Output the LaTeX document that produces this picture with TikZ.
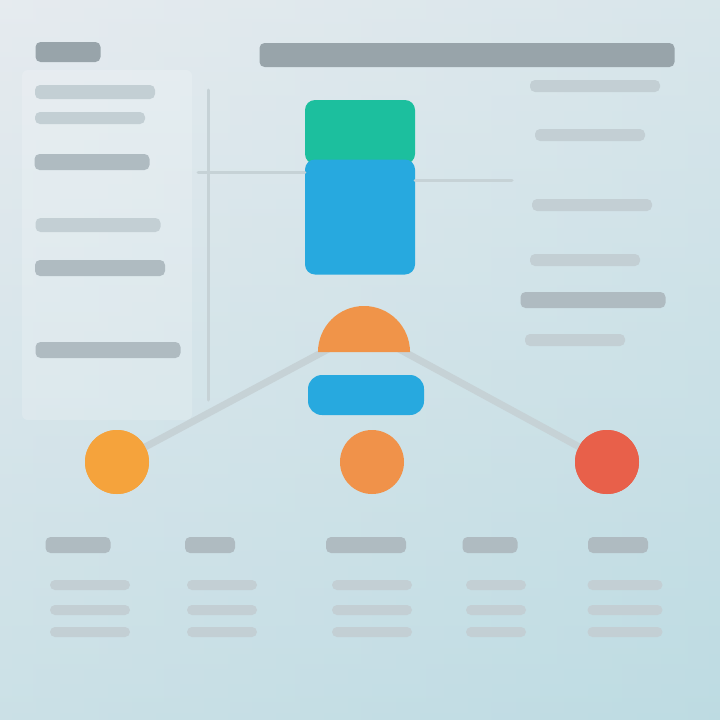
\documentclass[tikz,border=0pt]{standalone}
\usetikzlibrary{shapes.geometric}
\definecolor{bgA}{HTML}{E6EBEF}
\definecolor{bgB}{HTML}{C8E0E6}
\definecolor{bgD}{HTML}{B5D8E0}
\definecolor{barD}{HTML}{98A4AA}
\definecolor{barM}{HTML}{AFBBC1}
\definecolor{barL}{HTML}{C3CFD4}
\definecolor{tealc}{HTML}{1CBF9E}
\definecolor{bluec}{HTML}{27A9DF}
\definecolor{orA}{HTML}{F5A33C}
\definecolor{orB}{HTML}{F0924A}
\definecolor{redc}{HTML}{E8604A}
\definecolor{linec}{HTML}{C6D2D6}
\tikzset{
  bar/.style={fill=#1, rounded corners=5pt, inner sep=0pt, draw=none},
  bar/.default=barM,
  dot/.style={circle, minimum size=64pt, inner sep=0pt, draw=none, fill=#1},
  conn/.style={draw=linec, line width=7pt, line cap=round},
  thin/.style={draw=linec, line width=3pt, line cap=round}
}
\begin{document}
\begin{tikzpicture}[x=1pt,y=-1pt]
\useasboundingbox (0,0) rectangle (720,720);
\shade[left color=bgA, right color=bgB] (0,0) rectangle (720,720);
\shade[top color=bgA, bottom color=bgD, opacity=0.55] (0,0) rectangle (720,720);
% left panel
\fill[white, opacity=0.18, rounded corners=6pt] (22,70) rectangle (192,420);
% top bars
\node[bar=barD, minimum width=65pt, minimum height=20pt] (tl) at (68,52) {};
\node[bar=barD, minimum width=415pt, minimum height=24pt] (title) at (467,55) {};
% left column bars
\node[bar=barL, minimum width=120pt, minimum height=14pt] (l1) at (95,92) {};
\node[bar=barL, minimum width=110pt, minimum height=12pt] (l2) at (90,118) {};
\node[bar=barM, minimum width=115pt, minimum height=16pt] (l3) at (92,162) {};
\node[bar=barL, minimum width=125pt, minimum height=14pt] (l4) at (98,225) {};
\node[bar=barM, minimum width=130pt, minimum height=16pt] (l5) at (100,268) {};
\node[bar=barM, minimum width=145pt, minimum height=16pt] (l6) at (108,350) {};
% right column bars
\node[bar=barL, minimum width=130pt, minimum height=12pt] (r1) at (595,86) {};
\node[bar=barL, minimum width=110pt, minimum height=12pt] (r2) at (590,135) {};
\node[bar=barL, minimum width=120pt, minimum height=12pt] (r3) at (592,205) {};
\node[bar=barL, minimum width=110pt, minimum height=12pt] (r4) at (585,260) {};
\node[bar=barM, minimum width=145pt, minimum height=16pt] (r5) at (593,300) {};
\node[bar=barL, minimum width=100pt, minimum height=12pt] (r6) at (575,340) {};
% vertical guide
\coordinate (vt) at (208,90);
\coordinate (vb) at (208,400);
\draw[thin] (vt) -- (vb);
% central stack
\node[fill=tealc, rounded corners=10pt, minimum width=110pt, minimum height=64pt, inner sep=0pt] (top) at (360,132) {};
\node[fill=bluec, rounded corners=10pt, minimum width=110pt, minimum height=115pt, inner sep=0pt] (mid) at (360,217) {};
\coordinate (hl) at (198,172);
\coordinate (hr) at (512,180);
\draw[thin] (hl) -- (mid.west |- hl);
\draw[thin] (mid.east |- hr) -- (hr);
% connectors
\coordinate (dome) at (364,330);
\node[dot=orA] (c1) at (117,462) {};
\node[dot=orB] (c2) at (372,462) {};
\node[dot=redc] (c3) at (607,462) {};
\draw[conn] (dome) -- (c1);
\draw[conn] (dome) -- (c3);
\node[dot=orA] at (c1) {};
\node[dot=redc] at (c3) {};
% dome
\fill[orB!90!orA] (318,352) arc[start angle=180, end angle=0, radius=46pt] -- cycle;
\node[fill=bluec, rounded corners=14pt, minimum width=116pt, minimum height=40pt, inner sep=0pt] (pill) at (366,395) {};
% bottom columns
\node[bar=barM, minimum width=65pt, minimum height=16pt] (b1) at (78,545) {};
\node[bar=barM, minimum width=50pt, minimum height=16pt] (b2) at (210,545) {};
\node[bar=barM, minimum width=80pt, minimum height=16pt] (b3) at (366,545) {};
\node[bar=barM, minimum width=55pt, minimum height=16pt] (b4) at (490,545) {};
\node[bar=barM, minimum width=60pt, minimum height=16pt] (b5) at (618,545) {};
\foreach \x/\w in {90/80, 222/70, 372/80, 496/60, 625/75}{
  \node[bar=barL, minimum width=\w pt, minimum height=10pt] at (\x,585) {};
  \node[bar=barL, minimum width=\w pt, minimum height=10pt] at (\x,610) {};
  \node[bar=barL, minimum width=\w pt, minimum height=10pt] at (\x,632) {};
}
\end{tikzpicture}
\end{document}
